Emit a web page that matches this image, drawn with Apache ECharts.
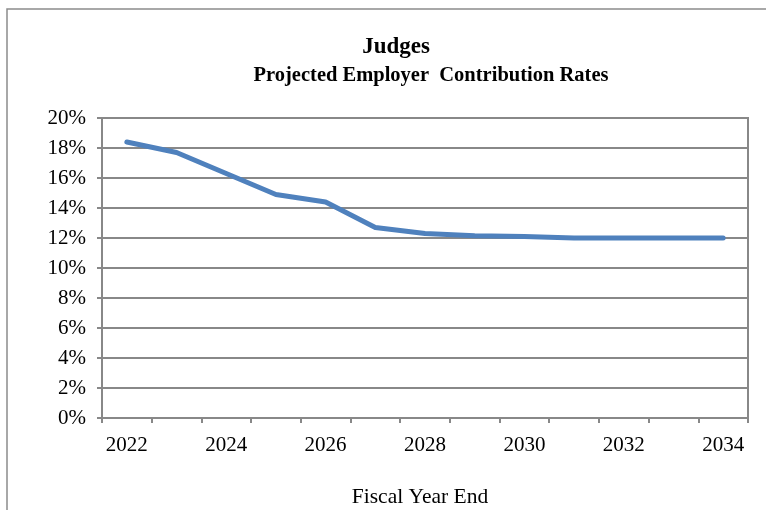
<!DOCTYPE html>
<html>
<head>
<meta charset="utf-8">
<script src="https://cdn.jsdelivr.net/npm/echarts@6/dist/echarts.min.js"></script>
<style>
html,body{margin:0;padding:0;background:#fff;}
#chart{width:766px;height:510px;}
</style>
</head>
<body>
<div id="chart"></div>
<script>
var years = ['2022','2023','2024','2025','2026','2027','2028','2029','2030','2031','2032','2033','2034'];
var rates = [18.4, 17.7, 16.3, 14.9, 14.4, 12.7, 12.3, 12.15, 12.1, 12.0, 12.0, 12.0, 12.0];
var titleLine1 = 'Judges';
var titleLine2 = 'Projected Employer  Contribution Rates';
var xAxisName = 'Fiscal Year End';

var font = '"Liberation Serif", "Times New Roman", serif';
var chart = echarts.init(document.getElementById('chart'), null, {renderer: 'canvas'});
chart.setOption({
  backgroundColor: '#fff',
  animation: false,
  title: [
    {text: titleLine1, left: 391, top: 31, textAlign: 'center',
     textStyle: {fontFamily: font, fontWeight: 'bold', fontSize: 23, color: '#000'}},
    {text: titleLine2, left: 426, top: 60, textAlign: 'center',
     textStyle: {fontFamily: font, fontWeight: 'bold', fontSize: 20.5, color: '#000'}},
    {text: xAxisName, left: 415, top: 481, textAlign: 'center',
     textStyle: {fontFamily: font, fontWeight: 'normal', fontSize: 21.5, color: '#000'}}
  ],
  graphic: [
    {type: 'rect', shape: {x: 7, y: 9, width: 800, height: 600},
     style: {fill: 'none', stroke: '#8c8c8c', lineWidth: 1.5}, silent: true}
  ],
  grid: {left: 102, right: 18, top: 118, bottom: 92, show: true,
         borderColor: '#888', borderWidth: 2, backgroundColor: 'transparent'},
  xAxis: {
    type: 'category', data: years, boundaryGap: true,
    axisLine: {lineStyle: {color: '#888', width: 2}},
    axisTick: {show: true, interval: 0, length: 5, lineStyle: {color: '#888', width: 2}},
    axisLabel: {interval: 1, color: '#000', fontFamily: font, fontSize: 21, margin: 17}
  },
  yAxis: {
    type: 'value', min: 0, max: 20, interval: 2,
    axisLine: {show: true, lineStyle: {color: '#888', width: 2}},
    axisTick: {show: true, length: 5, lineStyle: {color: '#888', width: 2}},
    splitLine: {lineStyle: {color: '#888', width: 2}},
    axisLabel: {formatter: '{value}%', color: '#000', fontFamily: font, fontSize: 21, margin: 16}
  },
  series: [{
    type: 'line', data: rates, showSymbol: false, symbol: 'none',
    lineStyle: {color: '#4F81BD', width: 5, cap: 'round', join: 'round'},
    itemStyle: {color: '#4F81BD'}
  }]
});
</script>
</body>
</html>
